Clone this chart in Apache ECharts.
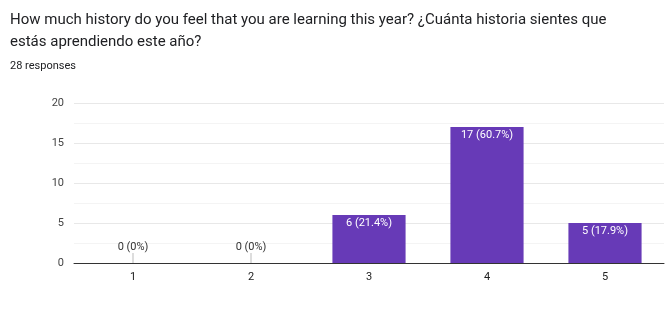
<!DOCTYPE html>
<html><head><meta charset="utf-8">
<script src="https://cdn.jsdelivr.net/npm/echarts@6/dist/echarts.min.js"></script>
<style>html,body{margin:0;padding:0;background:#fff;}#c{width:668px;height:321px;}</style>
</head><body><div id="c"></div>
<script>
const titleLines = ["How much history do you feel that you are learning this year? ¿Cuánta historia sientes que", "estás aprendiendo este año?"];
const subtitle = "28 responses";
const categories = ["1", "2", "3", "4", "5"];
const counts = [0, 0, 6, 17, 5];
const percents = ["0%", "0%", "21.4%", "60.7%", "17.9%"];
const yTicks = [0, 5, 10, 15, 20];

const chart = echarts.init(document.getElementById('c'), null, {renderer: 'canvas'});
const data = counts.map((v, i) => {
  const zero = v === 0;
  return {
    value: v,
    label: zero ? {position: 'top', color: '#333', distance: 10} : {position: 'insideTop', color: '#fff', distance: 3}
  };
});
const txt = (s, x, y, size) => ({
  type: 'text', x: x, y: y, silent: true,
  style: {text: s, fontFamily: 'Roboto', fontSize: size, fill: '#202124', textVerticalAlign: 'middle', textAlign: 'left'}
});
chart.setOption({
  animation: false,
  graphic: [
    txt(titleLines[0], 10, 20, 15),
    txt(titleLines[1], 10, 42, 15),
    txt(subtitle, 10, 66, 11)
  ],
  grid: {left: 74, right: 4, top: 103, bottom: 58},
  xAxis: {
    type: 'category', data: categories,
    axisLine: {lineStyle: {color: '#333', width: 1}},
    axisTick: {show: false},
    axisLabel: {fontFamily: 'Roboto', fontSize: 11, color: '#222', margin: 9}
  },
  yAxis: {
    type: 'value', min: 0, max: 20, interval: 5,
    axisLine: {show: false}, axisTick: {show: false},
    axisLabel: {fontFamily: 'Roboto', fontSize: 11, color: '#444', margin: 10, formatter: v => yTicks.includes(v) ? String(v) : ''},
    splitLine: {lineStyle: {color: '#e8e8e8'}},
    minorTick: {show: false, splitNumber: 2},
    minorSplitLine: {show: true, lineStyle: {color: '#f4f4f4'}}
  },
  series: [{
    type: 'bar', data: data, barWidth: '62%',
    itemStyle: {color: '#673ab7'},
    label: {
      show: true, fontFamily: 'Roboto', fontSize: 11,
      formatter: p => counts[p.dataIndex] + ' (' + percents[p.dataIndex] + ')'
    }
  }, {
    type: 'custom', silent: true, z: 1,
    data: counts.map((v, i) => [i, v]),
    renderItem: (params, api) => {
      if (api.value(1) !== 0) return null;
      const p = api.coord([api.value(0), 0]);
      return {type: 'line', shape: {x1: p[0], y1: p[1], x2: p[0], y2: p[1] - 10}, style: {stroke: '#bbb', lineWidth: 1}};
    }
  }]
});
</script></body></html>
